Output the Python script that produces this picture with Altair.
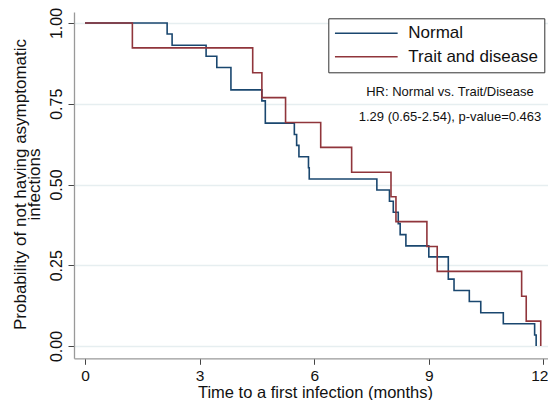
import altair as alt
import pandas as pd

FONT = "Liberation Sans"

groups = ["Normal", "Trait and disease"]
colors = ["#1a476f", "#90353b"]

normal_time = [0, 2.15, 2.28, 3.17, 3.45, 3.82, 4.63, 4.72, 5.48, 5.54, 5.60, 5.85, 5.87,
               7.64, 7.97, 8.07, 8.20, 8.25, 8.40, 9.00, 9.51, 9.66, 10.06, 10.36, 10.95,
               11.77, 11.81]
normal_surv = [1.0, 0.966, 0.931, 0.897, 0.862, 0.793, 0.759, 0.690, 0.655, 0.621, 0.586,
               0.552, 0.517, 0.483, 0.448, 0.414, 0.379, 0.345, 0.310, 0.276, 0.207, 0.172,
               0.138, 0.103, 0.069, 0.034, 0.0]

trait_time = [0, 1.24, 4.39, 4.63, 5.25, 6.17, 6.98, 8.01, 8.14, 8.95, 9.22, 11.43, 11.55, 11.93]
trait_surv = [1.0, 0.923, 0.846, 0.769, 0.692, 0.615, 0.538, 0.462, 0.385, 0.308, 0.231,
              0.154, 0.077, 0.0]

x_ticks = [0, 3, 6, 9, 12]
y_ticks = [0, 0.25, 0.5, 0.75, 1.0]

annot_text = ["HR: Normal vs. Trait/Disease", "1.29 (0.65-2.54), p-value=0.463"]
annot_x = [9.555, 9.555]
annot_y = [0.787, 0.710]

df = pd.concat([
    pd.DataFrame({"time": normal_time, "surv": normal_surv, "group": groups[0]}),
    pd.DataFrame({"time": trait_time, "surv": trait_surv, "group": groups[1]}),
], ignore_index=True)

ann = pd.DataFrame({"time": annot_x, "surv": annot_y, "text": annot_text})

x_scale = alt.Scale(domain=[-0.288, 12.12], nice=False, zero=False)
y_scale = alt.Scale(domain=[-0.038, 1.034], nice=False, zero=False)

lines = alt.Chart(df).mark_line(interpolate="step-after", strokeWidth=1.6).encode(
    x=alt.X("time:Q", scale=x_scale, axis=alt.Axis(
        values=x_ticks, title="Time to a first infection (months)",
        labelFontSize=15.5, labelBaseline="alphabetic",
        labelPadding=16.5, labelFlush=8, labelFlushOffset=4.5, labelOverlap=False,
        tickSize=6, grid=False,
        titleFontSize=16.5, titleFontWeight="normal", titleX=241, titleY=39,
        titleAlign="center", titleBaseline="alphabetic")),
    y=alt.Y("surv:Q", scale=y_scale, axis=alt.Axis(
        values=y_ticks, format=".2f",
        title=["Probability of not having asymptomatic", "infections"],
        labelFontSize=16, labelAngle=270, labelAlign="center",
        labelBaseline="alphabetic", labelPadding=6.3, labelFlush=False,
        labelOverlap=False, tickSize=6,
        grid=True, gridColor="#e6eef0", gridWidth=1.3,
        titleFontSize=17, titleFontWeight="normal", titleAngle=270,
        titleX=-49, titleY=172, titleAlign="center",
        titleBaseline="alphabetic", titleLineHeight=14.5)),
    color=alt.Color("group:N", scale=alt.Scale(domain=groups, range=colors),
                    legend=alt.Legend(
                        title=None, orient="none", legendX=254.3, legendY=6.3,
                        direction="vertical", padding=5.5, strokeColor="#333333",
                        fillColor="white", symbolType="stroke", symbolSize=3931,
                        symbolStrokeWidth=1.6, labelFontSize=17, labelOffset=9.5,
                        clipHeight=19, rowPadding=4.4, cornerRadius=0)),
)

text = alt.Chart(ann).mark_text(fontSize=13, font=FONT, align="center",
                                baseline="middle", color="#111111").encode(
    x=alt.X("time:Q", scale=x_scale),
    y=alt.Y("surv:Q", scale=y_scale),
    text="text:N",
)

chart = alt.layer(lines, text).properties(
    width=474, height=346.3,
    autosize=alt.AutoSizeParams(type="none"),
    padding={"left": 66, "top": 4, "right": 0, "bottom": 41.7},
).configure_view(stroke=None).configure_axis(
    labelFont=FONT, titleFont=FONT, labelColor="#111111", titleColor="#111111",
    domainColor="#999999", domainWidth=1.3, tickColor="#444444", tickWidth=1,
).configure_legend(labelFont=FONT, labelColor="#111111")

chart.save("out.html", embed_options={"renderer": "svg", "actions": False})
